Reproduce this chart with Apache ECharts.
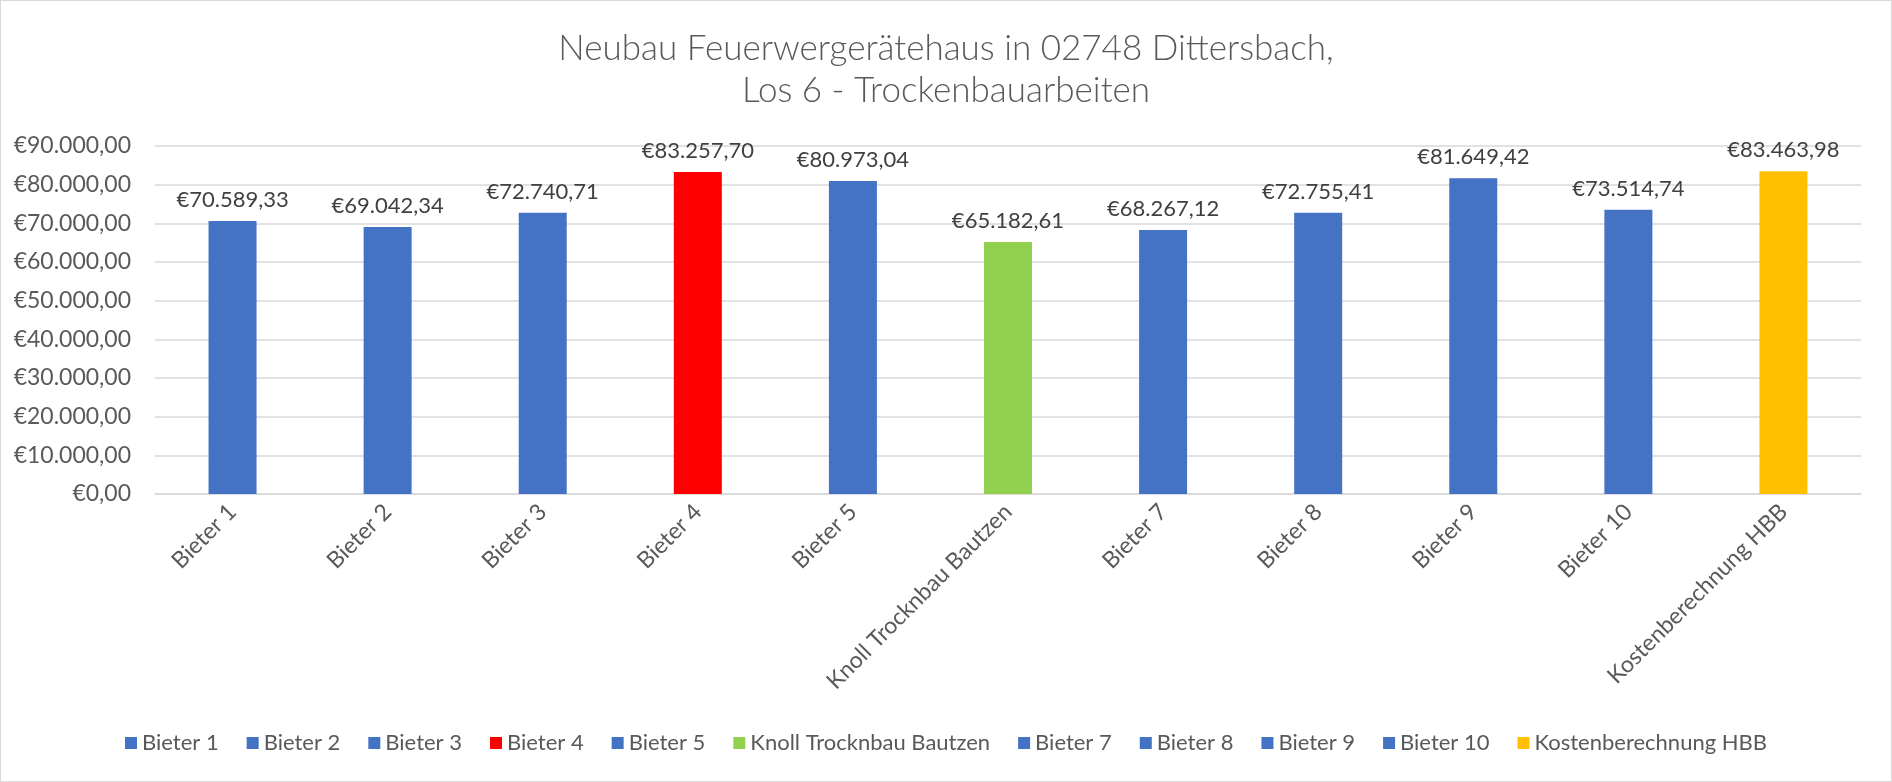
<!DOCTYPE html>
<html>
<head>
<meta charset="utf-8">
<script src="https://cdn.jsdelivr.net/npm/echarts@6/dist/echarts.min.js"></script>
<style>
  html, body { margin: 0; padding: 0; background: #fff; }
  #chart { width: 1892px; height: 782px; box-sizing: border-box; border: 1px solid #d9d9d9; }
</style>
</head>
<body>
<div id="chart"></div>
<script>
var categories = ['Bieter 1', 'Bieter 2', 'Bieter 3', 'Bieter 4', 'Bieter 5', 'Knoll Trocknbau Bautzen',
  'Bieter 7', 'Bieter 8', 'Bieter 9', 'Bieter 10', 'Kostenberechnung HBB'];
var values = [70589.33, 69042.34, 72740.71, 83257.70, 80973.04, 65182.61,
  68267.12, 72755.41, 81649.42, 73514.74, 83463.98];
var barColors = ['#4472c4', '#4472c4', '#4472c4', '#ff0000', '#4472c4', '#92d050',
  '#4472c4', '#4472c4', '#4472c4', '#4472c4', '#ffc000'];

var font = 'Lato, Carlito, "Open Sans", sans-serif';
var textCol = '#595959';

// 12345.6 -> €12.345,60
function euro(v) {
  var parts = Number(v).toFixed(2).split('.');
  var intPart = parts[0].replace(/\B(?=(\d{3})+(?!\d))/g, '.');
  return '€' + intPart + ',' + parts[1];
}

var series = [];
categories.forEach(function (name, i) {
  var d = categories.map(function (c, j) { return j == i ? values[i] : '-'; });
  series.push({
    name: name,
    type: 'bar',
    stack: 'all',
    barWidth: 48,
    itemStyle: { color: barColors[i] },
    label: {
      show: true,
      position: 'top',
      distance: 10,
      color: '#404040',
      fontFamily: font,
      fontSize: 22,
      formatter: function (p) { return euro(p.value); }
    },
    data: d
  });
});

var chart = echarts.init(document.getElementById('chart'));
chart.setOption({
  animation: false,
  title: {
    text: 'Neubau Feuerwergerätehaus in 02748 Dittersbach,\nLos 6 - Trockenbauarbeiten',
    left: 'center',
    top: 22,
    textStyle: {
      fontFamily: font,
      fontWeight: 300,
      fontSize: 35,
      lineHeight: 42,
      color: textCol
    }
  },
  legend: {
    data: categories,
    bottom: 22,
    left: 'center',
    icon: 'rect',
    itemWidth: 12,
    itemHeight: 12,
    itemGap: 28,
    textStyle: { fontFamily: font, fontSize: 22, color: textCol }
  },
  grid: { left: 154, right: 30, top: 145, bottom: 287 },
  xAxis: {
    type: 'category',
    data: categories,
    axisLine: { lineStyle: { color: '#d9d9d9', width: 1.5 } },
    axisTick: { show: false },
    axisLabel: {
      interval: 0,
      rotate: 45,
      margin: 14,
      fontFamily: font,
      fontSize: 23,
      color: textCol
    }
  },
  yAxis: {
    type: 'value',
    min: 0,
    max: 90000,
    interval: 10000,
    axisLine: { show: false },
    axisTick: { show: false },
    splitLine: { lineStyle: { color: '#d9d9d9', width: 1.5 } },
    axisLabel: {
      margin: 24,
      fontFamily: font,
      fontSize: 23,
      color: textCol,
      formatter: function (v) { return euro(v); }
    }
  },
  series: series
});
</script>
</body>
</html>
